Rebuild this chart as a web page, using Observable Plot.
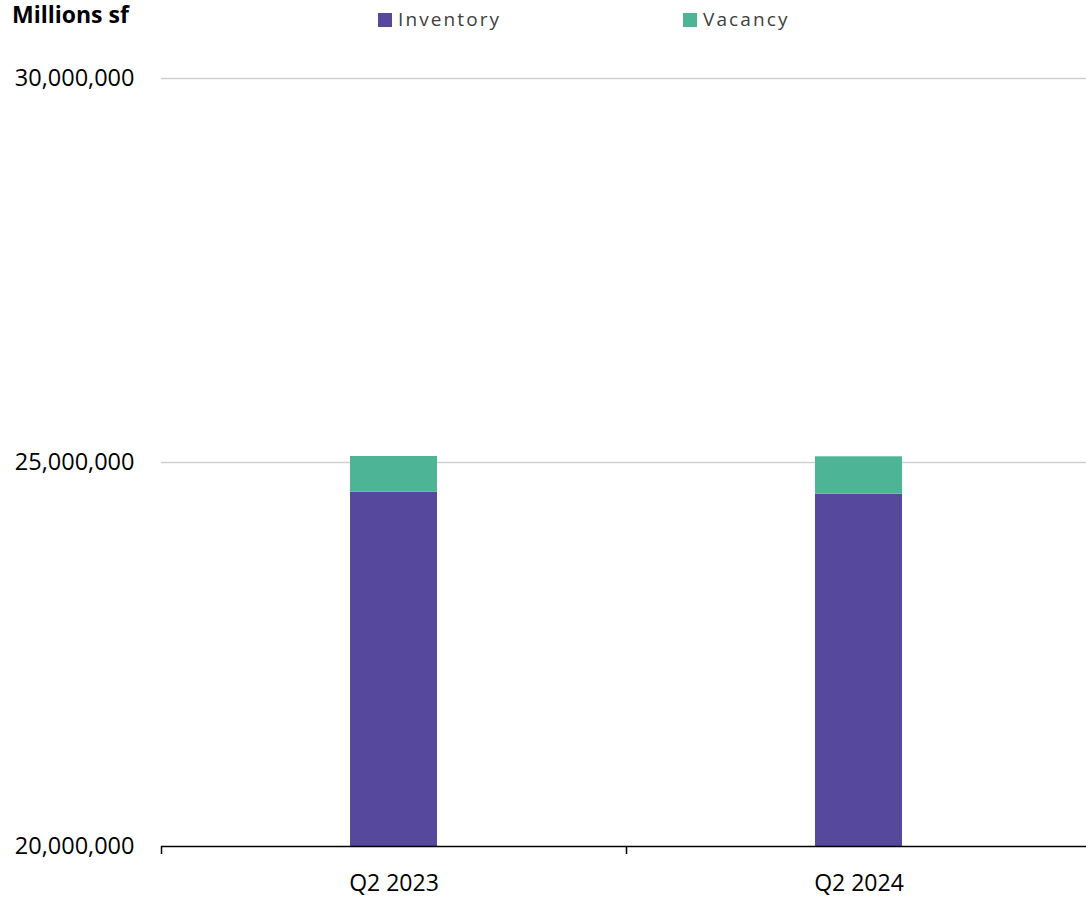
<!DOCTYPE html>
<html>
<head>
<meta charset="utf-8">
<script src="https://cdn.jsdelivr.net/npm/d3@7"></script>
<script src="https://cdn.jsdelivr.net/npm/@observablehq/plot@0.6"></script>
<style>
  html, body { margin: 0; padding: 0; background: #fff; }
  #wrap { position: relative; width: 1086px; height: 899px; font-family: "Open Sans", sans-serif; }
  #head { position: relative; height: 40px; }
  .unit { position: absolute; left: 12px; top: 3px; font-size: 23px; line-height: 1; font-weight: 700; color: #000; }
  .key { position: absolute; top: 10px; font-size: 19px; line-height: 1; color: #404040; letter-spacing: 2.1px; white-space: nowrap; }
  .key i { position: absolute; left: -20px; top: 3px; width: 14px; height: 14px; }
</style>
</head>
<body>
<div id="wrap">
  <div id="head">
    <div class="unit">Millions sf</div>
  </div>
  <div id="chart"></div>
</div>
<script>
// Quarterly office stock, square feet
const quarters = ["Q2 2023", "Q2 2024"];
const seriesNames = ["Inventory", "Vacancy"];
const inventory = [24613000, 24587000];
const vacancy = [465000, 487000];
const yTicks = [20000000, 25000000, 30000000];
const colors = ["#56499d", "#4db595"];

const rows = quarters.flatMap((q, i) => [
  {quarter: q, series: seriesNames[0], value: inventory[i]},
  {quarter: q, series: seriesNames[1], value: vacancy[i]}
]);

// legend entries in the header
const head = document.getElementById("head");
const legendLeft = [398, 703];
seriesNames.forEach((name, i) => {
  const el = document.createElement("div");
  el.className = "key";
  el.style.left = legendLeft[i] + "px";
  const sw = document.createElement("i");
  sw.style.background = colors[i];
  el.appendChild(sw);
  el.appendChild(document.createTextNode(name));
  head.appendChild(el);
});

const W = 1086, H = 859;
const xRange = [161, 1091];
const step = (xRange[1] - xRange[0]) / quarters.length;

const chart = Plot.plot({
  width: W,
  height: H,
  marginTop: 38,
  marginBottom: 53,
  marginLeft: 161,
  marginRight: 0,
  style: {fontFamily: "Open Sans, sans-serif", color: "#000", background: "#fff"},
  x: {type: "band", domain: quarters, range: xRange, paddingInner: 0.813, paddingOuter: 0.4065, align: 0.5, label: null},
  y: {domain: [20000000, 30000000], label: null},
  color: {domain: seriesNames, range: colors},
  marks: [
    Plot.ruleY(yTicks.slice(1), {stroke: "#d0d0d0", strokeWidth: 1.5}),
    Plot.barY(rows, Plot.stackY({x: "quarter", y: "value", fill: "series", order: seriesNames, clip: true})),
    Plot.ruleY([yTicks[0]], {stroke: "#000", strokeWidth: 1.5}),
    // tick marks between categories
    Plot.axisX({tickSize: 8, tickFormat: () => "", stroke: "#000", strokeWidth: 1.5, dx: -step / 2}),
    Plot.axisX({tickSize: 0, tickPadding: 28, fontSize: 23, fill: "#000"}),
    Plot.axisY({ticks: yTicks, tickSize: 0, tickPadding: 27, fontSize: 23.5, fill: "#000", tickFormat: d3.format(",")})
  ]
});
document.getElementById("chart").appendChild(chart);
</script>
</body>
</html>
